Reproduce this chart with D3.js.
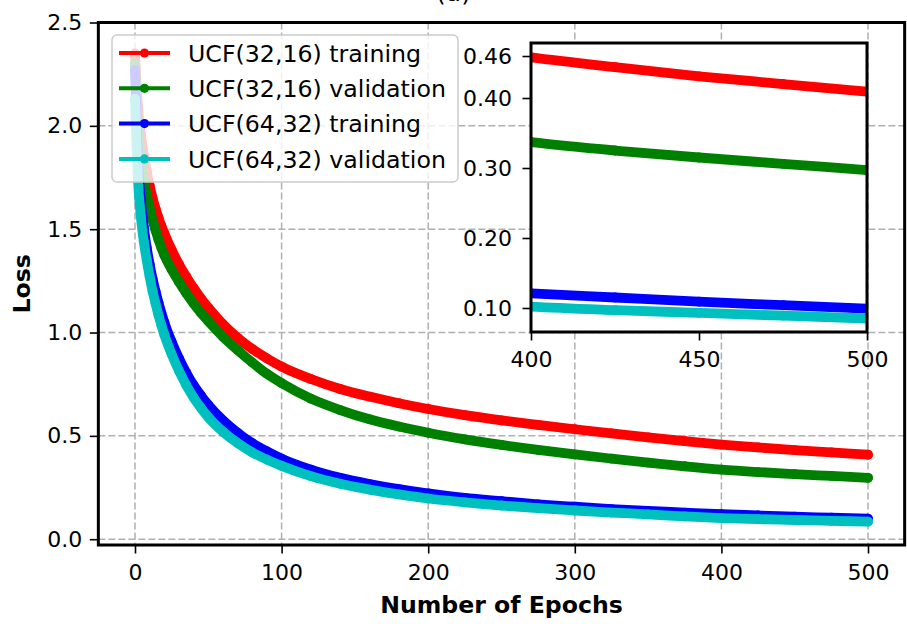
<!DOCTYPE html>
<html>
<head>
<meta charset="utf-8">
<script src="https://cdn.jsdelivr.net/npm/d3@7"></script>
<style>
  body { margin: 0; background: #ffffff; }
  svg { display: block; font-family: "DejaVu Sans", sans-serif; }
</style>
</head>
<body>
<svg id="chart" width="907" height="624"></svg>
<script>
// Epochs at which the loss values are recorded
const epochs = [0,2,4,6,8,10,12,14,16,18,20,25,30,35,40,45,50,60,70,80,90,100,
                120,140,160,180,200,225,250,275,300,325,350,375,400,425,450,475,500];

// Loss per model / split
const ucf3216Training = [2.35,2.10,1.96,1.86,1.78,1.71,1.65,1.60,1.555,1.515,1.48,
  1.40,1.33,1.27,1.215,1.165,1.12,1.04,0.975,0.92,0.875,0.835,
  0.775,0.727,0.69,0.658,0.63,0.60,0.575,0.553,0.532,0.512,0.493,0.475,0.458,0.444,0.431,0.42,0.409];
const ucf3216Validation = [2.30,2.00,1.85,1.745,1.665,1.60,1.545,1.495,1.45,1.41,1.375,
  1.305,1.245,1.19,1.14,1.095,1.055,0.98,0.915,0.855,0.80,0.755,
  0.68,0.625,0.58,0.545,0.515,0.483,0.456,0.432,0.41,0.39,0.371,0.353,0.337,0.325,0.315,0.306,0.297];
const ucf6432Training = [2.27,1.84,1.64,1.51,1.41,1.33,1.26,1.20,1.145,1.095,1.05,
  0.955,0.875,0.805,0.745,0.695,0.65,0.575,0.515,0.465,0.425,0.39,
  0.337,0.297,0.267,0.242,0.222,0.20,0.184,0.169,0.157,0.146,0.137,0.129,0.121,0.115,0.109,0.104,0.099];
const ucf6432Validation = [2.13,1.74,1.56,1.44,1.35,1.27,1.20,1.14,1.085,1.035,0.99,
  0.895,0.815,0.745,0.685,0.635,0.59,0.52,0.465,0.42,0.385,0.355,
  0.305,0.268,0.24,0.217,0.197,0.178,0.163,0.15,0.139,0.129,0.12,0.11,0.102,0.097,0.093,0.089,0.085];

const seriesNames = ["UCF(32,16) training", "UCF(32,16) validation", "UCF(64,32) training", "UCF(64,32) validation"];
const seriesColors = ["#ff0000", "#008000", "#0000ff", "#00bfbf"];

const xTicks = [0, 100, 200, 300, 400, 500];
const yTicks = [0, 0.5, 1.0, 1.5, 2.0, 2.5];
const insetXTicks = [400, 450, 500];
const insetYTicks = [0.10, 0.20, 0.30, 0.40, 0.46];

const titleText = "(a)";
const xLabel = "Number of Epochs";
const yLabel = "Loss";

const series = [ucf3216Training, ucf3216Validation, ucf6432Training, ucf6432Validation].map((vals, i) => ({
  name: seriesNames[i],
  color: seriesColors[i],
  points: vals.map((v, j) => ({ epoch: epochs[j], loss: v }))
}));

const svg = d3.select("#chart");
const FONT = "DejaVu Sans";
svg.append("rect").attr("width", 907).attr("height", 624).attr("fill", "#ffffff");

// ---------- main axes ----------
const M = { left: 98.35, right: 904.65, top: 22.5, bottom: 545 };
const x = d3.scaleLinear().domain([-25, 525]).range([M.left, M.right]);
const y = d3.scaleLinear().domain([-0.028, 2.5]).range([M.bottom, M.top]);

// panel title sits at the very top edge of the figure
svg.append("text").attr("x", 453.5).attr("y", 0.8).attr("text-anchor", "middle")
  .attr("font-size", 25).attr("font-family", FONT).text(titleText);

svg.append("clipPath").attr("id", "mainClip").append("rect")
  .attr("x", M.left).attr("y", M.top).attr("width", M.right - M.left).attr("height", M.bottom - M.top);

const gridStyle = sel => sel.attr("stroke", "#b0b0b0").attr("stroke-width", 1.5).attr("stroke-dasharray", "7,3");
const grid = svg.append("g");
grid.selectAll("line.gx").data(xTicks).join("line").attr("class", "gx")
  .attr("x1", d => x(d)).attr("x2", d => x(d)).attr("y1", M.top).attr("y2", M.bottom).call(gridStyle);
grid.selectAll("line.gy").data(yTicks).join("line").attr("class", "gy")
  .attr("y1", d => y(d)).attr("y2", d => y(d)).attr("x1", M.left).attr("x2", M.right).call(gridStyle);

// Each series: a marker-wide stroke through the points plus the 'o' markers themselves
function drawSeries(g, xs, ys, clipId) {
  const line = d3.line().curve(d3.curveMonotoneX).x(d => xs(d.epoch)).y(d => ys(d.loss));
  const layer = g.append("g").attr("clip-path", `url(#${clipId})`);
  series.forEach(s => {
    const pts = s.points.filter(p => p.epoch >= xs.domain()[0] - 30 && p.epoch <= xs.domain()[1] + 30);
    layer.append("path").datum(pts).attr("d", line).attr("fill", "none")
      .attr("stroke", s.color).attr("stroke-width", 9.8)
      .attr("stroke-linejoin", "round").attr("stroke-linecap", "round");
    layer.selectAll(null).data(pts).join("circle")
      .attr("cx", d => xs(d.epoch)).attr("cy", d => ys(d.loss)).attr("r", 4.9).attr("fill", s.color);
  });
}
drawSeries(svg, x, y, "mainClip");

function styleAxis(g, size) {
  g.select(".domain").remove();
  g.selectAll(".tick line").attr("stroke", "#000").attr("stroke-width", 1.6);
  g.selectAll(".tick text").attr("fill", "#000").attr("font-size", size).attr("font-family", FONT);
  g.attr("font-family", FONT);
}

svg.append("g").attr("transform", `translate(0,${M.bottom})`)
  .call(d3.axisBottom(x).tickValues(xTicks).tickSize(8.5).tickPadding(11).tickFormat(d3.format("d")))
  .call(g => styleAxis(g, 22));
svg.append("g").attr("transform", `translate(${M.left},0)`)
  .call(d3.axisLeft(y).tickValues(yTicks).tickSize(8.5).tickPadding(7.5).tickFormat(d3.format(".1f")))
  .call(g => styleAxis(g, 22));

svg.append("rect").attr("x", M.left).attr("y", M.top).attr("width", M.right - M.left).attr("height", M.bottom - M.top)
  .attr("fill", "none").attr("stroke", "#000").attr("stroke-width", 3);

svg.append("text").attr("x", (M.left + M.right) / 2).attr("y", 613).attr("text-anchor", "middle")
  .attr("font-size", 23.6).attr("font-weight", "bold").attr("font-family", FONT).text(xLabel);
svg.append("text").attr("transform", `translate(30,${(M.top + M.bottom) / 2}) rotate(-90)`).attr("text-anchor", "middle")
  .attr("font-size", 23.6).attr("font-weight", "bold").attr("font-family", FONT).text(yLabel);

// ---------- legend ----------
const legend = svg.append("g");
legend.append("rect").attr("x", 112).attr("y", 35).attr("width", 346).attr("height", 147).attr("rx", 5)
  .attr("fill", "#ffffff").attr("fill-opacity", 0.8).attr("stroke", "#cccccc").attr("stroke-width", 1.5);
const rows = legend.selectAll("g.row").data(series).join("g").attr("class", "row")
  .attr("transform", (d, i) => `translate(0,${53 + i * 35.3})`);
rows.append("line").attr("x1", 119).attr("x2", 170).attr("y1", 0).attr("y2", 0)
  .attr("stroke", d => d.color).attr("stroke-width", 4);
rows.append("circle").attr("cx", 144.5).attr("cy", 0).attr("r", 4.6).attr("fill", d => d.color);
rows.append("text").attr("x", 188).attr("y", 8.6).attr("font-size", 23.7).attr("font-family", FONT)
  .attr("fill", "#000").text(d => d.name);

// ---------- inset (last 100 epochs) ----------
const I = { left: 531, right: 867, top: 43, bottom: 332 };
const xi = d3.scaleLinear().domain([400, 500]).range([I.left, I.right]);
const yi = d3.scaleLinear().domain([0.0657, 0.4786]).range([I.bottom, I.top]);

const insetG = svg.append("g");
insetG.append("rect").attr("x", I.left).attr("y", I.top).attr("width", I.right - I.left).attr("height", I.bottom - I.top)
  .attr("fill", "#ffffff");
insetG.append("clipPath").attr("id", "insetClip").append("rect")
  .attr("x", I.left).attr("y", I.top).attr("width", I.right - I.left).attr("height", I.bottom - I.top);
drawSeries(insetG, xi, yi, "insetClip");

insetG.append("g").attr("transform", `translate(0,${I.bottom})`)
  .call(d3.axisBottom(xi).tickValues(insetXTicks).tickSize(8.5).tickPadding(10.5).tickFormat(d3.format("d")))
  .call(g => styleAxis(g, 22));
insetG.append("g").attr("transform", `translate(${I.left},0)`)
  .call(d3.axisLeft(yi).tickValues(insetYTicks).tickSize(8.5).tickPadding(10.5).tickFormat(d3.format(".2f")))
  .call(g => styleAxis(g, 22));
insetG.append("rect").attr("x", I.left).attr("y", I.top).attr("width", I.right - I.left).attr("height", I.bottom - I.top)
  .attr("fill", "none").attr("stroke", "#000").attr("stroke-width", 3);
</script>
</body>
</html>
